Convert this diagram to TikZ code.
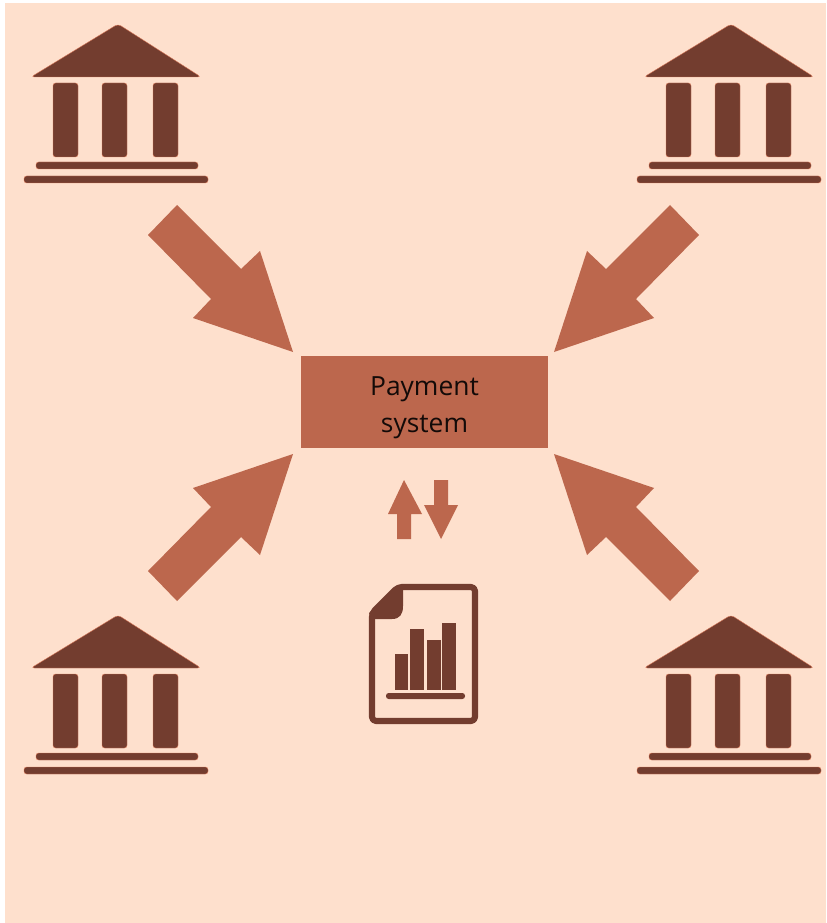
\documentclass[tikz,border=0pt]{standalone}
\usepackage{fontspec}
\setmainfont{Open Sans}
\definecolor{bgc}{HTML}{FEE0CD}
\definecolor{arrowc}{HTML}{BC674D}
\definecolor{darkc}{HTML}{733D2F}
\definecolor{halo}{HTML}{D9795A}
\tikzset{
  x=0.75pt,y=-0.75pt,
  dark/.style={fill=darkc,draw=halo,line width=0.3pt},
  darkplain/.style={fill=darkc,draw=none},
  solidarrow/.style={fill=arrowc,draw=none},
  bank/.pic={
    \fill[dark,rounded corners=2.5pt] (118,24) -- (201,77) -- (31,77) -- cycle;
    \fill[dark,rounded corners=2pt] (53,83) rectangle (78,157);
    \fill[dark,rounded corners=2pt] (102,83) rectangle (127,157);
    \fill[dark,rounded corners=2pt] (153,83) rectangle (178,157);
    \fill[dark,rounded corners=2pt] (36,162) rectangle (198,169);
    \fill[dark,rounded corners=2pt] (24,176) rectangle (208,183);
  },
  bigarrow/.pic={
    \fill[solidarrow] (-116,-147) -- (-52,-83) -- (-33,-101) -- (0,0)
      -- (-100,-34) -- (-82,-53) -- (-145,-117) -- cycle;
  },
}
\begin{document}
\begin{tikzpicture}
\useasboundingbox (0,0) rectangle (826,923);
\fill[bgc] (5,3) rectangle (826,923);
% banks
\pic at (0,0) {bank};
\pic at (613,0) {bank};
\pic at (0,591) {bank};
\pic at (613,591) {bank};
% block arrows towards the payment system
\pic at (293,352) {bigarrow};
\pic[xscale=-1] at (554,352) {bigarrow};
\pic[yscale=-1] at (293,454) {bigarrow};
\pic[xscale=-1,yscale=-1] at (554,454) {bigarrow};
% payment system
\node[fill=arrowc,inner sep=0pt,minimum width=185.25pt,minimum height=69pt] (payment) at (424.5,402) {};
\node[inner sep=0pt,align=center,text=black!90!arrowc,font=\fontsize{19.8}{27.8}\selectfont] (paymentlabel) at (424.5,407.5) {Payment\\system};
% small arrows
\fill[solidarrow] (404,480) -- (422,514) -- (411,514) -- (411,539) -- (397,539) -- (397,514) -- (388,514) -- cycle;
\fill[solidarrow] (434,480) -- (448,480) -- (448,505) -- (458,505) -- (441,539) -- (424,505) -- (434,505) -- cycle;
% document
\draw[darkc,line width=4.6pt,line join=round,rounded corners=3pt] (398,587) -- (475,587) -- (475,721) -- (372,721) -- (372,613) -- cycle;
\fill[darkc] (398,585) -- (369,613) -- (371,619) -- (392,619) .. controls (400,619) and (403,614) .. (403,606) -- (403,585) -- cycle;
\fill[darkplain] (395,654) rectangle (408,690);
\fill[darkplain] (410,629) rectangle (424,690);
\fill[darkplain] (427,640) rectangle (441,690);
\fill[darkplain] (442,623) rectangle (456,690);
\fill[darkplain,rounded corners=2pt] (386,693) rectangle (465,699);
\end{tikzpicture}
\end{document}
